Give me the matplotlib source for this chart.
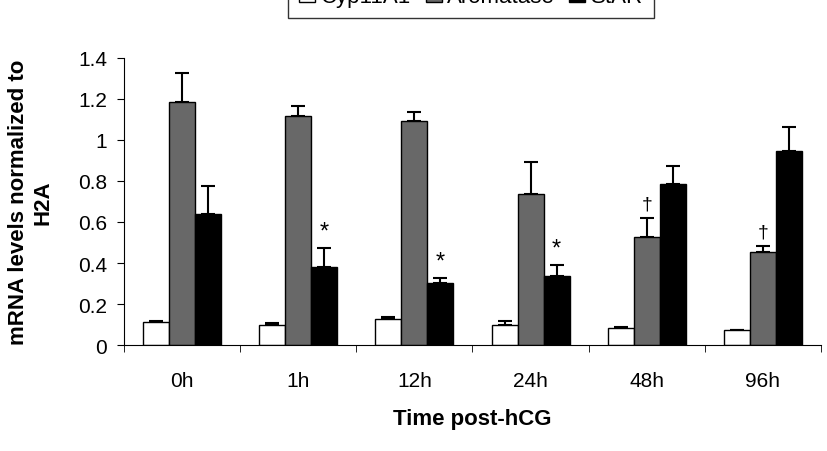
import matplotlib.pyplot as plt
import matplotlib.ticker as mticker
import numpy as np

plt.rcParams.update({
    "font.family": ["Liberation Sans", "DejaVu Sans"],
    "font.size": 15,
})

times = ["0h", "1h", "12h", "24h", "48h", "96h"]
series = ["Cyp11A1", "Aromatase", "StAR"]

cyp = [0.11, 0.10, 0.127, 0.10, 0.083, 0.072]
cyp_err = [0.008, 0.008, 0.011, 0.017, 0.006, 0.0]
arom = [1.184, 1.119, 1.093, 0.737, 0.527, 0.455]
arom_err = [0.144, 0.047, 0.045, 0.154, 0.091, 0.026]
star = [0.639, 0.382, 0.302, 0.337, 0.784, 0.948]
star_err = [0.135, 0.091, 0.025, 0.053, 0.089, 0.117]

# significance marks: (category index, series index, symbol)
marks = [(1, 2, "*"), (2, 2, "*"), (3, 2, "*"), (4, 1, "\u2020"), (5, 1, "\u2020")]

values = [cyp, arom, star]
errors = [cyp_err, arom_err, star_err]
faces = ["white", "#686868", "black"]

fig = plt.figure(figsize=(8.28, 4.52), dpi=100)
ax = fig.add_axes([0.1498, 0.2345, 0.8417, 0.635])

x = np.arange(len(times))
w = 0.224
for i, (vals, errs, fc) in enumerate(zip(values, errors, faces)):
    pos = x + (i - 1) * w
    ax.bar(pos, vals, width=w, color=fc, edgecolor="black", linewidth=1.0,
           label=series[i], zorder=2)
    ax.errorbar(pos, vals, yerr=[np.zeros(len(errs)), errs], fmt="none",
                ecolor="black", elinewidth=1.5, capsize=5, capthick=1.5, zorder=1)

for ci, si, sym in marks:
    top = values[si][ci] + errors[si][ci]
    ax.annotate(sym, xy=(x[ci] + (si - 1) * w, top), xytext=(0, 4),
                textcoords="offset points", ha="center", va="bottom",
                fontsize=17 if sym == "*" else 14)

ax.set_ylim(0, 1.4)
ax.set_xlim(-0.5, len(times) - 0.5)
ax.yaxis.set_major_locator(mticker.MultipleLocator(0.2))
ax.yaxis.set_major_formatter(mticker.FuncFormatter(lambda v, _: f"{v:g}"))
ax.set_xticks(x)
ax.set_xticklabels(times)
ax.set_xticks(np.arange(len(times) + 1) - 0.5, minor=True)
ax.tick_params(axis="x", which="major", length=0, pad=19, labelsize=15)
ax.tick_params(axis="x", which="minor", length=5, direction="out")
ax.tick_params(axis="y", length=5, direction="out", pad=7, labelsize=15)

for sp in ["top", "right"]:
    ax.spines[sp].set_visible(False)

ax.set_xlabel("Time post-hCG", fontweight="bold", fontsize=16, labelpad=13)
ax.set_ylabel("mRNA levels normalized to\nH2A", fontweight="bold", fontsize=16,
              labelpad=18)

# legend sits partly above the top edge, as in the source figure
leg = fig.legend(loc="lower center", bbox_to_anchor=(0.569, 0.958), ncol=3,
                 frameon=True, fancybox=False, edgecolor="black",
                 handlelength=0.72, handleheight=0.72, handletextpad=0.25,
                 columnspacing=0.65, fontsize=16, borderpad=0.5,
                 borderaxespad=0)
leg.get_frame().set_linewidth(1.0)

fig.savefig("out.png", dpi=100)
